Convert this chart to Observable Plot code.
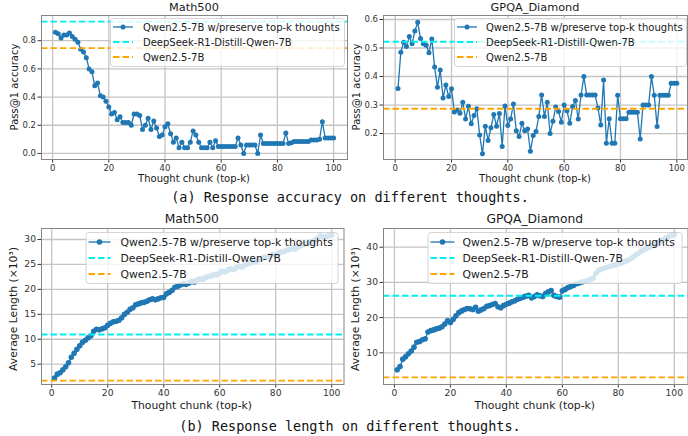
<!DOCTYPE html>
<html><head><meta charset="utf-8">
<script src="https://cdn.jsdelivr.net/npm/d3@7"></script>
<script src="https://cdn.jsdelivr.net/npm/@observablehq/plot@0.6"></script>
<style>
body{margin:0;background:#fff;}
#root{position:relative;width:688px;height:436px;overflow:hidden;font-family:"DejaVu Sans",sans-serif;color:#222;background:#fff;}
.t{position:absolute;white-space:nowrap;transform:translate(-50%,-50%);line-height:1;z-index:5;}
.pw{position:absolute;z-index:1;}
</style></head><body><div id="root"></div><script>
// ---------------- data ----------------
const chunks = Array.from({length: 100}, (_, i) => i + 1);
const seriesNames = ["Qwen2.5-7B w/preserve top-k thoughts", "DeepSeek-R1-Distill-Qwen-7B", "Qwen2.5-7B"];
const xTicks = [0, 20, 40, 60, 80, 100];

const mathAcc = [0.86,0.85,0.82,0.84,0.84,0.855,0.83,0.81,0.79,0.74,
 0.72,0.68,0.60,0.58,0.48,0.50,0.41,0.40,0.37,0.33,
 0.28,0.29,0.24,0.26,0.22,0.22,0.22,0.20,0.28,0.28,
 0.27,0.17,0.20,0.25,0.17,0.23,0.18,0.12,0.13,0.19,
 0.21,0.14,0.08,0.11,0.04,0.08,0.04,0.04,0.08,0.16,
 0.13,0.08,0.04,0.04,0.04,0.08,0.04,0.09,0.05,0.05,
 0.05,0.05,0.05,0.05,0.05,0.11,0.06,0.00,0.06,0.06,
 0.06,0.06,0.00,0.13,0.07,0.07,0.07,0.07,0.07,0.07,
 0.07,0.07,0.145,0.07,0.075,0.085,0.085,0.085,0.085,0.085,
 0.085,0.095,0.095,0.095,0.10,0.225,0.11,0.11,0.11,0.11];

const gpqaAcc = [0.358,0.485,0.52,0.505,0.54,0.515,0.56,0.59,0.533,0.515,
 0.51,0.483,0.532,0.433,0.362,0.423,0.325,0.37,0.33,0.357,
 0.276,0.283,0.271,0.31,0.251,0.296,0.234,0.263,0.287,0.195,
 0.129,0.226,0.176,0.22,0.267,0.226,0.27,0.155,0.297,0.228,
 0.251,0.304,0.21,0.19,0.236,0.21,0.216,0.138,0.193,0.207,
 0.26,0.335,0.26,0.31,0.20,0.243,0.293,0.277,0.24,0.30,
 0.28,0.236,0.295,0.316,0.251,0.335,0.40,0.335,0.335,0.335,
 0.335,0.29,0.23,0.388,0.166,0.252,0.166,0.166,0.334,0.252,
 0.252,0.252,0.275,0.275,0.275,0.275,0.181,0.30,0.30,0.30,
 0.40,0.334,0.225,0.334,0.334,0.334,0.334,0.376,0.376,0.376];

const mathLen = [2.2,3.0,3.3,3.9,4.5,5.3,6.4,7.2,8.0,8.7,
 9.4,9.8,10.3,10.7,11.6,12.0,11.9,12.1,12.3,12.8,
 13.2,13.5,13.6,13.8,14.3,15.0,15.4,16.0,16.3,16.9,
 17.1,17.3,17.4,17.6,17.9,18.1,17.9,18.1,18.3,18.4,
 19.1,19.4,19.8,20.4,20.6,20.9,21.1,21.0,21.3,21.6,
 21.5,21.9,22.1,22.0,22.4,22.6,22.7,23.0,22.9,23.3,
 23.6,23.5,23.9,24.1,24.0,24.4,24.6,24.5,24.9,25.1,
 25.3,25.6,25.5,25.9,26.2,26.5,26.4,26.8,27.0,26.9,
 27.3,27.5,27.6,27.9,28.0,28.2,28.1,28.5,28.8,29.0,
 29.2,29.5,29.6,29.9,30.3,30.8,30.5,30.6,30.8,30.9];

const gpqaLen = [5.2,6.1,8.2,8.9,9.7,10.5,11.6,13.0,13.2,13.7,
 14.0,15.9,16.3,16.5,16.8,17.0,17.4,18.2,19.1,18.6,
 19.5,20.5,21.4,21.9,22.3,22.6,22.5,22.3,22.9,21.8,
 22.2,22.6,23.2,23.4,23.7,24.0,23.1,22.8,23.4,23.8,
 24.1,24.5,24.8,25.2,25.5,25.8,26.1,26.3,25.6,26.0,
 26.5,26.2,26.0,26.8,27.3,27.7,26.3,26.0,25.8,27.6,
 28.0,28.5,28.8,29.1,29.6,29.8,30.1,30.3,30.5,30.8,
 31.2,32.5,33.4,33.8,34.0,34.3,34.6,34.8,35.0,35.3,
 35.5,35.8,36.1,36.5,37.0,37.6,38.2,38.8,39.2,39.6,
 40.0,40.4,40.8,41.3,41.7,42.1,42.6,43.0,43.3,43.5];

// baselines [DeepSeek-R1-Distill-Qwen-7B, Qwen2.5-7B]
const mathAccBase = [0.935, 0.748];
const gpqaAccBase = [0.522, 0.287];
const mathLenBase = [10.95, 1.7];
const gpqaLenBase = [26.2, 3.0];

const accTicksMath = [0, 0.2, 0.4, 0.6, 0.8];
const accTicksGpqa = [0.2, 0.3, 0.4, 0.5, 0.6];
const lenTicksMath = [5, 10, 15, 20, 25, 30];
const lenTicksGpqa = [10, 20, 30, 40];

const titles = ["Math500", "GPQA_Diamond"];
const xLabel = "Thought chunk (top-k)";
const yLabels = ["Pass@1 accuracy", "Average Length (×10³)"];
const captions = ["(a) Response accuracy on different thoughts.", "(b) Response length on different thoughts."];

// ---------------- drawing ----------------
const root = document.getElementById("root");
const BLUE = "#1f77b4", CYAN = "#00f0f0", ORANGE = "#ffa500";

function txt(x, y, s, size, opts = {}) {
  const d = document.createElement("div");
  d.className = "t"; d.textContent = s;
  d.style.left = x + "px"; d.style.top = y + "px"; d.style.fontSize = size + "px";
  if (opts.rotate) d.style.transform = "translate(-50%,-50%) rotate(-90deg)";
  if (opts.mono) d.style.fontFamily = '"DejaVu Sans Mono", monospace';
  if (opts.color) d.style.color = opts.color;
  root.appendChild(d);
}

// legend drawn as a custom mark inside the plot SVG (on top of the data)
function legendMark(b, ox, oy) {
  return () => {
    const g = d3.create("svg:g");
    g.append("rect").attr("x", b.l - ox + 0.5).attr("y", b.t - oy + 0.5)
      .attr("width", b.r - b.l - 1).attr("height", b.b - b.t - 1).attr("rx", 3)
      .attr("fill", "#ffffff").attr("fill-opacity", 0.8)
      .attr("stroke", "#cccccc").attr("stroke-opacity", 0.85).attr("stroke-width", 1);
    const cols = [BLUE, CYAN, ORANGE];
    b.rows.forEach((ry, i) => {
      const y = ry - oy;
      const ln = g.append("line").attr("x1", b.hx0 - ox).attr("x2", b.hx1 - ox).attr("y1", y).attr("y2", y)
        .attr("stroke", cols[i]).attr("stroke-width", i === 0 ? 1.3 : 1.8);
      if (i > 0) ln.attr("stroke-dasharray", "6.5,3");
      if (i === 0) g.append("circle").attr("cx", (b.hx0 + b.hx1) / 2 - ox).attr("cy", y).attr("r", b.r0).attr("fill", BLUE);
      g.append("text").attr("x", b.tx - ox).attr("y", y).attr("dy", "0.35em").attr("text-anchor", "start")
        .attr("font-family", "DejaVu Sans").attr("font-size", b.fs).attr("fill", "#1a1a1a").text(seriesNames[i]);
    });
    return g.node();
  };
}

function panel(c) {
  const [x0, x1, y0, y1] = c.frame;
  const mL = 40, mR = 2, mT = 15, mB = 20;
  const ox = x0 - mL, oy = y0 - mT;
  const data = c.values.map((v, i) => ({k: chunks[i], v}));
  const svg = Plot.plot({
    width: x1 - x0 + mL + mR, height: y1 - y0 + mT + mB,
    marginLeft: mL, marginRight: mR, marginTop: mT, marginBottom: mB,
    style: {background: "transparent", overflow: "visible", maxWidth: "none", color: "#333", fontFamily: "DejaVu Sans"},
    x: {domain: c.xDomain},
    y: {domain: c.yDomain},
    marks: [
      Plot.gridX(xTicks, {stroke: "#c4c4c4", strokeOpacity: 1, strokeWidth: 1.3}),
      Plot.gridY(c.yTicks, {stroke: "#c4c4c4", strokeOpacity: 1, strokeWidth: 1.3}),
      Plot.axisX(xTicks, {tickSize: 3.5, tickPadding: 1.5, fontSize: c.tfs, label: null, tickFormat: d => String(d)}),
      Plot.axisY(c.yTicks, {tickSize: 3.5, tickPadding: 2, fontSize: c.tfs, label: null, tickFormat: c.yFormat}),
      Plot.line(data, {x: "k", y: "v", stroke: BLUE, strokeWidth: 1.3}),
      Plot.dot(data, {x: "k", y: "v", fill: BLUE, r: c.r}),
      Plot.ruleY([c.base[0]], {stroke: CYAN, strokeWidth: 1.8, strokeDasharray: "6.5,3"}),
      Plot.ruleY([c.base[1]], {stroke: ORANGE, strokeWidth: 1.8, strokeDasharray: "6.5,3"}),
      Plot.frame({stroke: "#858585"}),
      legendMark(c.legend, ox, oy)
    ]
  });
  const w = document.createElement("div");
  w.className = "pw";
  w.style.left = ox + "px"; w.style.top = oy + "px";
  w.appendChild(svg);
  root.appendChild(w);
  const cx = (x0 + x1) / 2;
  txt(cx, c.titleY, c.title, c.titleFs, {color: "#1a1a1a"});
  txt(cx, y1 + c.xlabOff, xLabel, c.lfs, {color: "#1a1a1a"});
  txt(x0 - 26.5, (y0 + y1) / 2 + c.ylabShift, c.ylabel, c.lfs, {rotate: true, color: "#1a1a1a"});
}

panel({frame: [41, 347, 15, 159], xDomain: [-3.95, 104.95], yDomain: [-0.043, 0.979], yTicks: accTicksMath,
  yFormat: d3.format(".1f"), values: mathAcc, base: mathAccBase, tfs: 8.5, r: 2.5,
  title: titles[0], titleY: 7.5, titleFs: 11.3, lfs: 10, xlabOff: 19.5, ylabel: yLabels[0], ylabShift: 0,
  legend: {l: 110, t: 18, r: 345, b: 67, rows: [27, 42, 57], hx0: 113, hx1: 133, tx: 143, fs: 10, r0: 2.5}});

panel({frame: [383, 687, 15, 159], xDomain: [-4.15, 103.8], yDomain: [0.109, 0.614], yTicks: accTicksGpqa,
  yFormat: d3.format(".1f"), values: gpqaAcc, base: gpqaAccBase, tfs: 8.5, r: 2.5,
  title: titles[1], titleY: 7.5, titleFs: 11.3, lfs: 10, xlabOff: 19.5, ylabel: yLabels[0], ylabShift: 0,
  legend: {l: 454, t: 18, r: 687, b: 67, rows: [27, 42, 57], hx0: 457, hx1: 477, tx: 486, fs: 10, r0: 2.5}});

panel({frame: [40.5, 343, 228, 384], xDomain: [-3.65, 104.4], yDomain: [0.93, 32.2], yTicks: lenTicksMath,
  yFormat: d => String(d), values: mathLen, base: mathLenBase, tfs: 9.2, r: 2.8,
  title: titles[0], titleY: 219, titleFs: 12.3, lfs: 10.8, xlabOff: 22, ylabel: yLabels[1], ylabShift: 3,
  legend: {l: 85, t: 232, r: 338, b: 284, rows: [242, 258, 274], hx0: 88, hx1: 110, tx: 120, fs: 10.8, r0: 2.8}});

panel({frame: [382.5, 687, 228, 384], xDomain: [-3.9, 104.9], yDomain: [1.0, 45.3], yTicks: lenTicksGpqa,
  yFormat: d => String(d), values: gpqaLen, base: gpqaLenBase, tfs: 9.2, r: 2.8,
  title: titles[1], titleY: 219, titleFs: 12.3, lfs: 10.8, xlabOff: 22, ylabel: yLabels[1], ylabShift: 3,
  legend: {l: 427, t: 232, r: 682, b: 284, rows: [242, 258, 274], hx0: 430, hx1: 454, tx: 462, fs: 10.8, r0: 2.8}});

txt(350, 198, captions[0], 13.5, {mono: true, color: "#111"});
txt(350, 427, captions[1], 13.5, {mono: true, color: "#111"});
</script></body></html>
